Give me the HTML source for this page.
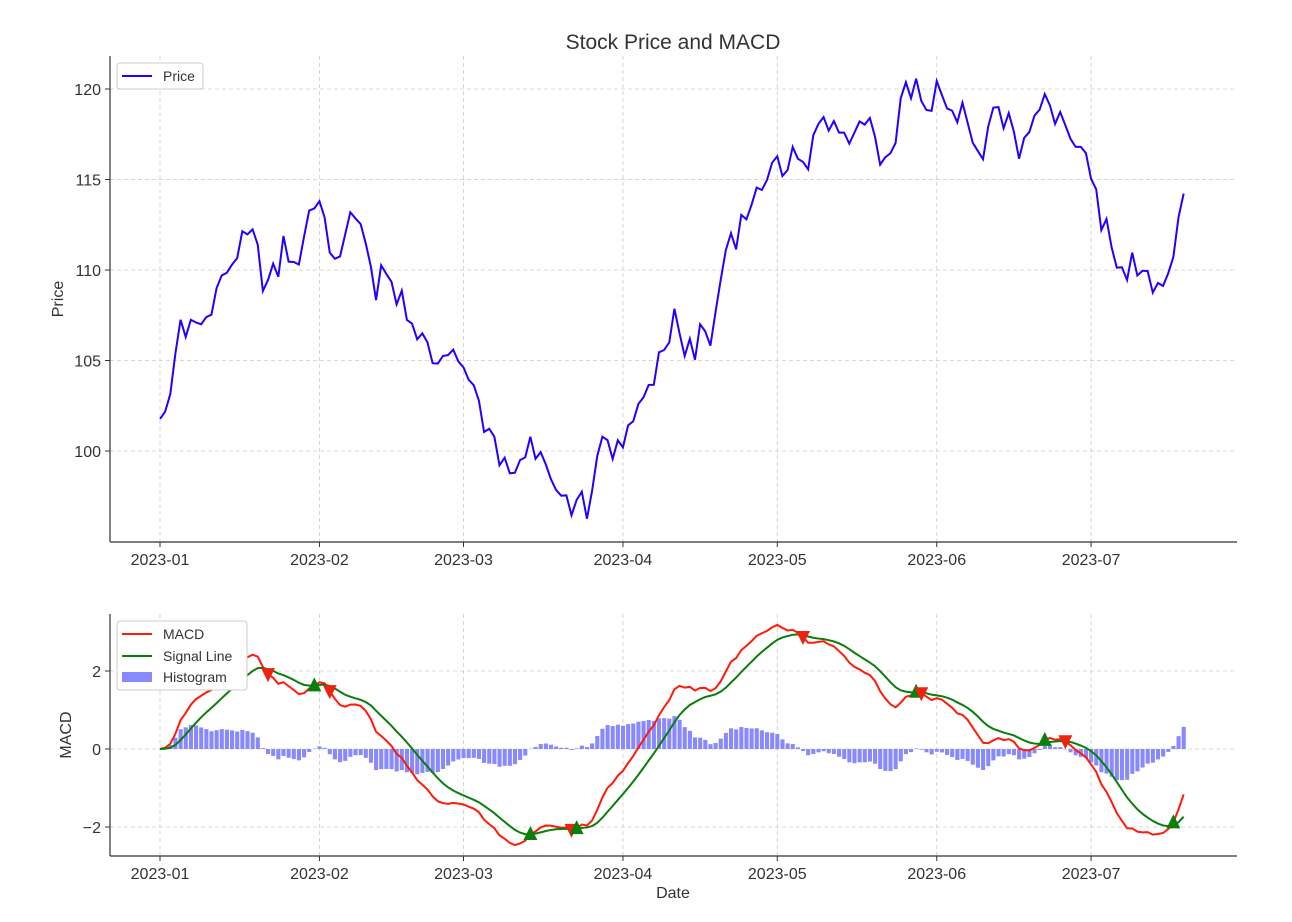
<!DOCTYPE html>
<html><head><meta charset="utf-8"><style>
body{margin:0;background:#fff;}
svg{display:block;font-family:"Liberation Sans","DejaVu Sans",sans-serif;}
</style></head><body>
<svg id="chart" width="1292" height="922"></svg>
<script>
const monthLabels=["2023-01","2023-02","2023-03","2023-04","2023-05","2023-06","2023-07"];
const monthDays=[0,31,59,90,120,151,181];
const priceTicks=[100,105,110,115,120];
const macdTicks=[-2,0,2];
const prices=[101.77,102.17,103.15,105.4,107.25,106.3,107.25,107.1,107.0,107.4,
107.53,109.0,109.7,109.85,110.3,110.65,112.14,111.97,112.25,111.4,
108.84,109.45,110.35,109.63,111.88,110.46,110.44,110.3,111.84,113.28,
113.4,113.8,112.9,110.96,110.62,110.75,111.97,113.19,112.85,112.54,
111.47,110.18,108.34,110.26,109.78,109.35,108.1,108.86,107.24,107.04,
106.17,106.5,106.0,104.85,104.83,105.25,105.3,105.6,104.95,104.62,
103.94,103.63,102.78,101.05,101.23,100.79,99.21,99.63,98.77,98.8,
99.5,99.65,100.79,99.57,99.94,99.26,98.44,97.85,97.53,97.55,
96.45,97.3,97.75,96.26,97.8,99.72,100.79,100.6,99.56,100.59,
100.2,101.42,101.64,102.6,102.97,103.65,103.66,105.45,105.58,106.0,
107.86,106.5,105.25,106.2,105.04,107.0,106.61,105.82,107.68,109.45,
111.1,112.03,111.14,113.04,112.8,113.6,114.55,114.42,114.97,115.93,
116.28,115.19,115.52,116.8,116.15,115.97,115.56,117.44,118.07,118.45,
117.7,118.23,117.59,117.59,116.98,117.59,118.21,118.03,118.4,117.36,
115.82,116.23,116.45,117.02,119.49,120.37,119.49,120.57,119.34,118.84,
118.79,120.44,119.67,118.93,118.8,118.16,119.24,118.14,117.03,116.57,
116.12,117.92,118.97,119.0,117.83,118.67,117.64,116.15,117.3,117.62,
118.53,118.86,119.72,119.1,118.07,118.73,118.0,117.25,116.8,116.8,
116.46,115.04,114.46,112.2,112.82,111.25,110.13,110.15,109.45,110.96,
109.7,109.96,109.94,108.75,109.28,109.12,109.82,110.72,112.91,114.22];

const NS="http://www.w3.org/2000/svg";
const svg=document.getElementById('chart');
function el(tag,attrs,parent){const e=document.createElementNS(NS,tag);for(const k in attrs)e.setAttribute(k,attrs[k]);(parent||svg).appendChild(e);return e;}
function x(d){return 160+d*5.144;}
function yP(v){return 451-(v-100)*18.1;}
function yM(v){return 749-v*39;}

// EMA / MACD derived from price
function ema(arr,span){const a=2/(span+1);const out=[arr[0]];for(let i=1;i<arr.length;i++)out.push(a*arr[i]+(1-a)*out[i-1]);return out;}
const e12=ema(prices,12),e26=ema(prices,26);
const macd=e12.map((v,i)=>v-e26[i]);
const signal=ema(macd,9);
const hist=macd.map((v,i)=>v-signal[i]);

// title
const t=el('text',{x:673,y:49,'text-anchor':'middle','font-size':21,fill:'#333'});t.textContent='Stock Price and MACD';



function panel(top,bottom,ticks,yf,label,labelX,name){
  const g=el('g',{});
  
  
  monthDays.forEach((d,i)=>{
    const gl=el('line',{x1:x(d),x2:x(d),y1:top,y2:bottom,stroke:'#cccccc','stroke-dasharray':'4,3','stroke-width':0.8},g);
    
    
    el('line',{x1:x(d),x2:x(d),y1:bottom,y2:bottom+5,stroke:'#333'},g);
    const tl=el('text',{x:x(d),y:bottom+23,'text-anchor':'middle','font-size':16,fill:'#333'},g);tl.textContent=monthLabels[i];
    
    
  });
  ticks.forEach(v=>{
    const yy=yf(v);
    const gl=el('line',{x1:110,x2:1237,y1:yy,y2:yy,stroke:'#cccccc','stroke-dasharray':'4,3','stroke-width':0.8},g);
    
    
    el('line',{x1:105,x2:110,y1:yy,y2:yy,stroke:'#333'},g);
    const tl=el('text',{x:101,y:yy+6,'text-anchor':'end','font-size':16,fill:'#333'},g);tl.textContent=(v<0?'\u2212'+(-v):v);
    
    
  });
  el('line',{x1:110,x2:110,y1:top,y2:bottom,stroke:'#333','stroke-width':1.2},g);
  el('line',{x1:110,x2:1237,y1:bottom,y2:bottom,stroke:'#333','stroke-width':1.2},g);
  const yl=el('text',{x:labelX,y:(top+bottom)/2,'text-anchor':'middle','font-size':16,fill:'#333',transform:`rotate(-90 ${labelX} ${(top+bottom)/2})`},g);
  yl.textContent=label;
  
  
  return g;
}
panel(56,542,priceTicks,yP,'Price',63,'price-panel');
panel(614,856,macdTicks,yM,'MACD',71,'macd-panel');
const xl=el('text',{x:673,y:898,'text-anchor':'middle','font-size':16,fill:'#333'});xl.textContent='Date';



// price line
const pl=el('polyline',{points:prices.map((v,i)=>x(i)+','+yP(v)).join(' '),fill:'none',stroke:'#2200ff','stroke-width':2});



// histogram
hist.forEach((v,i)=>{
  const y0=yM(0),y1=yM(v);
  const r=el('rect',{x:x(i)-2,y:Math.min(y0,y1),width:4.1,height:Math.abs(y1-y0),fill:'#8888ff'});
  
  
});
const ml=el('polyline',{points:macd.map((v,i)=>x(i)+','+yM(v)).join(' '),fill:'none',stroke:'#ff1a0a','stroke-width':2});


const sl=el('polyline',{points:signal.map((v,i)=>x(i)+','+yM(v)).join(' '),fill:'none',stroke:'#0a7d0a','stroke-width':2});



// crossover markers
for(let i=1;i<macd.length;i++){
  const px=x(i),py=yM(macd[i]);
  if(macd[i-1]<signal[i-1]&&macd[i]>signal[i]){
    const m=el('polygon',{points:`${px},${py-8} ${px-7},${py+6} ${px+7},${py+6}`,fill:'#0a800a'});
    
    
  } else if(macd[i-1]>signal[i-1]&&macd[i]<signal[i]){
    const m=el('polygon',{points:`${px},${py+8} ${px-7},${py-6} ${px+7},${py-6}`,fill:'#ee2211'});
    
    
  }
}

// legends
const lg1=el('g',{});


el('rect',{x:117,y:63,width:86,height:26,rx:3,fill:'#fff',stroke:'#ccc'},lg1);
el('line',{x1:122,x2:152,y1:76,y2:76,stroke:'#2200ff','stroke-width':2},lg1);
const lt=el('text',{x:163,y:81,'font-size':14,fill:'#333'},lg1);lt.textContent='Price';
const lg2=el('g',{});


el('rect',{x:117,y:621,width:130,height:69,rx:3,fill:'#fff',stroke:'#ccc'},lg2);
el('line',{x1:122,x2:152,y1:634,y2:634,stroke:'#ff1a0a','stroke-width':2},lg2);
el('line',{x1:122,x2:152,y1:656,y2:656,stroke:'#0a7d0a','stroke-width':2},lg2);
el('rect',{x:122,y:672,width:30,height:10,fill:'#8888ff'},lg2);
[['MACD',639],['Signal Line',661],['Histogram',682]].forEach(([s,yy])=>{const tt=el('text',{x:163,y:yy,'font-size':14,fill:'#333'},lg2);tt.textContent=s;});
</script>
</body></html>
